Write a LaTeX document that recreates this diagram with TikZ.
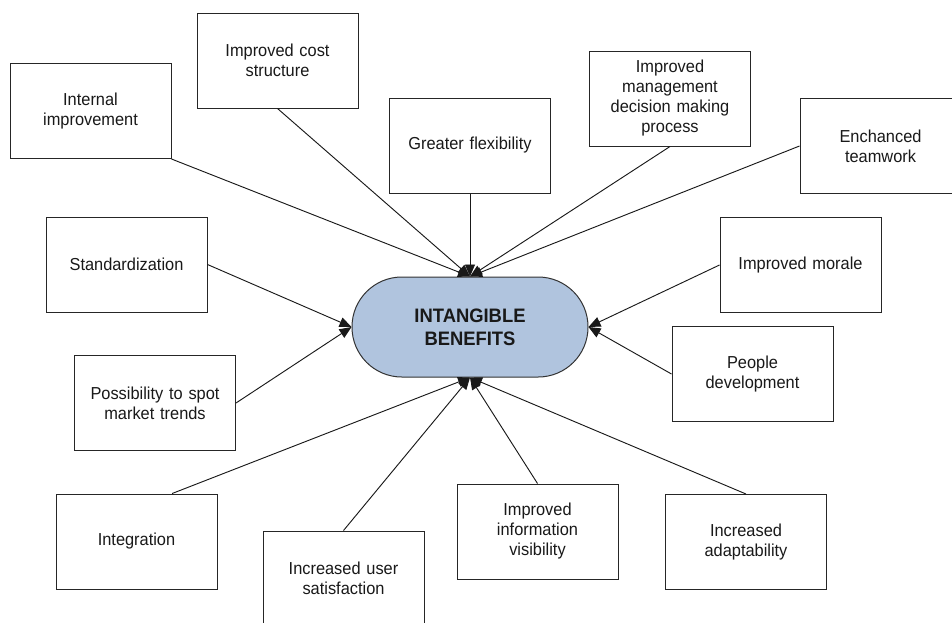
\documentclass[tikz,border=0pt]{standalone}
\usepackage{fontspec}
\setmainfont{Liberation Sans}
\newfontfamily\boxsans[FakeStretch=0.945]{Liberation Sans}
\usetikzlibrary{arrows.meta,calc}
\definecolor{pillblue}{RGB}{176,196,222}
\begin{document}
\begin{tikzpicture}[x=0.75pt,y=-0.75pt,
  benefit/.style={draw=black!85, line width=0.75pt, minimum width=120.75pt,
    minimum height=71.25pt, text width=115pt, align=center, inner sep=0pt,
    font=\boxsans\fontsize{13}{15}\selectfont, text=black!90},
  hub/.style={draw=black!80, line width=0.75pt, fill=pillblue, rounded corners=37.4pt,
    minimum width=177pt, minimum height=75pt, align=center, text=black!90,
    font=\boxsans\fontsize{14.6}{17.25}\selectfont\bfseries},
  link/.style={line width=0.7pt, draw=black!90,
    -{Triangle[length=9pt,width=7.5pt]}}]
\useasboundingbox (0,0) rectangle (952,622);
\clip (0,0) rectangle (952,622);

% central hub
\node[hub] (c) at (470,327) {INTANGIBLE\\BENEFITS};

% benefit boxes
\node[benefit] (ii)  at (90.5,111)   {Internal\\improvement};
\node[benefit] (ics) at (277.5,60.5) {Improved cost\\structure};
\node[benefit] (gf)  at (470,145.5)  {Greater flexibility};
\node[benefit] (imd) at (670,98.5)   {Improved\\management\\decision making\\process};
\node[benefit] (et)  at (880.5,146)  {Enchanced\\teamwork};
\node[benefit] (st)  at (126.5,264.5) {Standardization};
\node[benefit] (ps)  at (155,403)    {Possibility to spot\\market trends};
\node[benefit] (im)  at (800.5,265)  {Improved morale};
\node[benefit] (pd)  at (752.5,374)  {People\\development};
\node[benefit] (ig)  at (136.5,541.5) {Integration};
\node[benefit] (ius) at (343.5,578.5) {Increased user\\satisfaction};
\node[benefit] (iiv) at (537.5,531.5) {Improved\\information\\visibility};
\node[benefit] (ia)  at (746,542)    {Increased\\adaptability};

% connectors into the hub
\draw[link] (ii.south east) -- (c.north);
\draw[link] (ics.south) -- (c.north);
\draw[link] (gf.south) -- (c.north);
\draw[link] (imd.south) -- (c.north);
\draw[link] (et.west) -- (c.north);
\draw[link] (st.east) -- (c.west);
\draw[link] (ps.east) -- (c.west);
\draw[link] (im.west) -- (c.east);
\draw[link] (pd.west) -- (c.east);
\draw[link] ($(ig.north west)!0.72!(ig.north east)$) -- (c.south);
\draw[link] (ius.north) -- (c.south);
\draw[link] (iiv.north) -- (c.south);
\draw[link] (ia.north) -- (c.south);
\end{tikzpicture}
\end{document}
